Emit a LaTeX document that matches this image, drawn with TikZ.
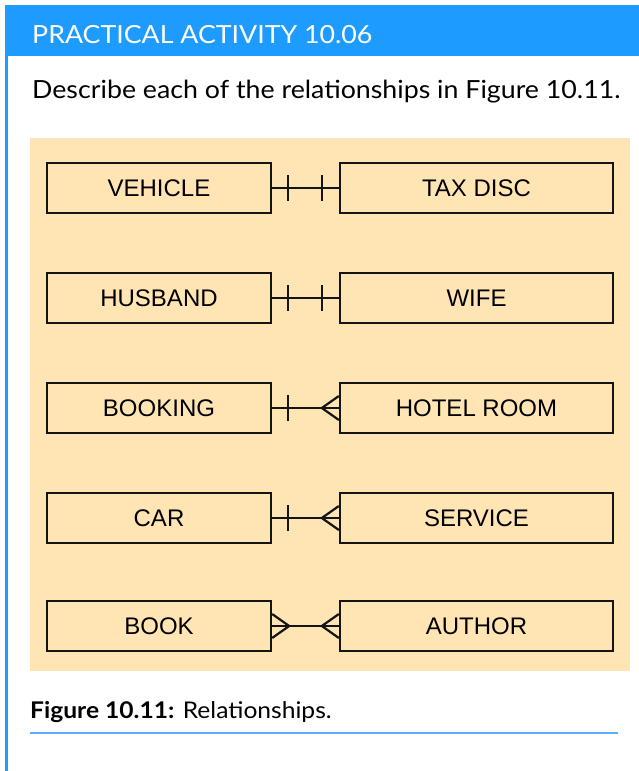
\documentclass[tikz,border=0pt]{standalone}
\usepackage{fontspec}
\setmainfont{Lato}[FakeStretch=1.07]
\newfontfamily\boxfont{Liberation Sans}
\usetikzlibrary{calc}
\definecolor{hdrblue}{RGB}{30,155,255}
\definecolor{lineblue}{RGB}{90,175,250}
\definecolor{panel}{RGB}{255,229,180}
\definecolor{ink}{RGB}{20,20,20}
\tikzset{
  entity/.style={draw=ink, line width=2.3pt, fill=panel, minimum height=50pt,
    inner sep=0pt, font=\boxfont\fontsize{24}{28}\selectfont, text=black},
  lbox/.style={entity, minimum width=224pt},
  rbox/.style={entity, minimum width=273pt},
  rel/.style={draw=ink, line width=2.2pt},
}
\begin{document}
\begin{tikzpicture}[x=1pt,y=-1pt]
\useasboundingbox (0,0) rectangle (639,771);
\fill[white] (0,0) rectangle (639,771);
% header bar and left border
\fill[hdrblue] (5,5) rectangle (639,56);
\fill[hdrblue] (5,5) rectangle (7.5,771);
\node[anchor=base west, inner sep=0pt, text=white, font=\fontsize{25}{30}\selectfont] (hdr) at (32,43) {PRACTICAL ACTIVITY 10.06};
\node[anchor=base west, inner sep=0pt, text=black, font=\fontsize{25}{30}\selectfont] (desc) at (32,98) {Describe each of the relationships in Figure 10.11.};
% panel
\fill[panel] (30,138) rectangle (630,671);
% entities
\foreach \i/\y/\l/\r in {1/188/VEHICLE/TAX DISC, 2/298/HUSBAND/WIFE, 3/408/BOOKING/HOTEL ROOM, 4/518/CAR/SERVICE, 5/626/BOOK/AUTHOR}{
  \node[lbox] (l\i) at (159,\y) {\l};
  \node[rbox] (r\i) at (476.5,\y) {\r};
  \draw[rel] (l\i.east) -- (r\i.west);
}
% one-to-one ticks
\foreach \i in {1,2}{
  \draw[rel] ($(l\i.east)+(16,-13)$) -- ($(l\i.east)+(16,13)$);
  \draw[rel] ($(r\i.west)+(-17,-13)$) -- ($(r\i.west)+(-17,13)$);
}
% one-to-many
\foreach \i in {3,4}{
  \draw[rel] ($(l\i.east)+(16,-13)$) -- ($(l\i.east)+(16,13)$);
  \draw[rel] ($(r\i.west)+(0,-12)$) -- ($(r\i.west)+(-17,0)$) -- ($(r\i.west)+(0,12)$);
}
% many-to-many
\draw[rel] ($(l5.east)+(0,-12)$) -- ($(l5.east)+(17,0)$) -- ($(l5.east)+(0,12)$);
\draw[rel] ($(r5.west)+(0,-12)$) -- ($(r5.west)+(-17,0)$) -- ($(r5.west)+(0,12)$);
% caption
\node[anchor=base west, inner sep=0pt, text=black, font=\fontsize{23}{28}\selectfont] (cap) at (30,718) {\textbf{Figure 10.11:} Relationships.};
\draw[lineblue, line width=2pt] (30,733) coordinate (c1) -- (618,733) coordinate (c2);
\end{tikzpicture}
\end{document}
